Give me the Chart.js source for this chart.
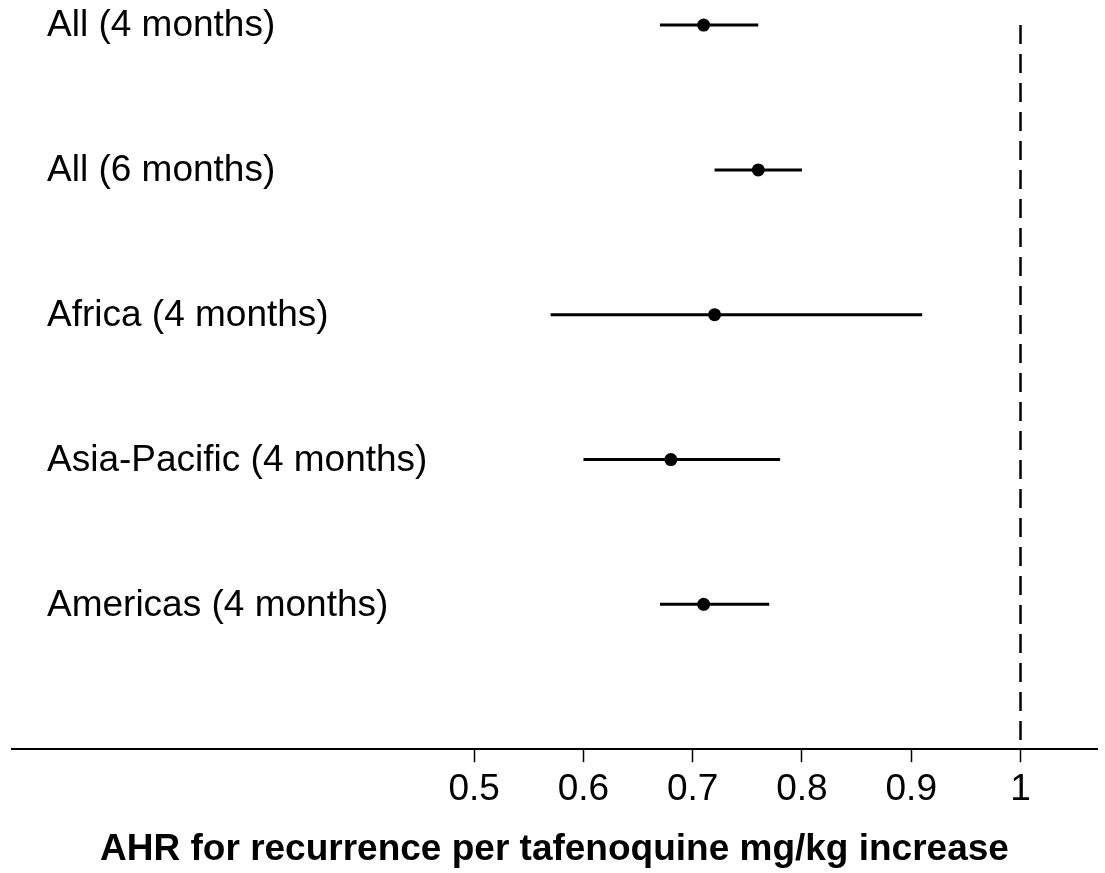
<!DOCTYPE html>
<html>
<head>
<meta charset="utf-8">
<script src="https://cdn.jsdelivr.net/npm/chart.js@4/dist/chart.umd.min.js"></script>
<style>
    body { margin: 0; background: #fff; }
    #wrap { width: 1105px; height: 873px; }
</style>
</head>
<body>
<div id="wrap"><canvas id="forest"></canvas></div>
<script>
// Rows, top to bottom
const groups = ['All (4 months)', 'All (6 months)', 'Africa (4 months)', 'Asia-Pacific (4 months)', 'Americas (4 months)'];
const ahr = [0.71, 0.76, 0.72, 0.68, 0.71];
const lower = [0.67, 0.72, 0.57, 0.60, 0.67];
const upper = [0.76, 0.80, 0.91, 0.78, 0.77];
const xTicks = [0.5, 0.6, 0.7, 0.8, 0.9, 1];
const refLine = 1;

const fontFamily = '"Liberation Sans", Arial, Helvetica, sans-serif';

// one line dataset per confidence interval
const ciSets = groups.map((g, i) => ({
    type: 'line',
    data: [{ x: lower[i], y: i + 1 }, { x: upper[i], y: i + 1 }],
    borderColor: '#000',
    borderWidth: 3,
    pointRadius: 0
}));

// Dashed reference line at AHR = 1
const refSet = {
    type: 'line',
    data: [{ x: refLine, y: 1 }, { x: refLine, y: groups.length + 1 }],
    borderColor: '#000',
    borderWidth: 2.5,
    borderDash: [19, 10],
    pointRadius: 0
};

// Point estimates
const pointSet = {
    type: 'scatter',
    data: ahr.map((v, i) => ({ x: v, y: i + 1 })),
    backgroundColor: '#000',
    borderWidth: 0,
    pointRadius: 6.5
};

// Row labels sit inside the plot, left aligned, at each row's y position
const rowLabels = {
    id: 'rowLabels',
    afterDatasetsDraw(chart) {
        const { ctx, chartArea, scales: { y } } = chart;
        ctx.save();
        ctx.fillStyle = '#000';
        ctx.font = '37px ' + fontFamily;
        ctx.textAlign = 'left';
        ctx.textBaseline = 'middle';
        groups.forEach((g, i) => {
            ctx.fillText(g, chartArea.left + 35, y.getPixelForValue(i + 1) + 1);
        });
        ctx.restore();
    }
};

new Chart(document.getElementById('forest'), {
    data: { datasets: [refSet, ...ciSets, pointSet] },
    plugins: [rowLabels],
    options: {
        responsive: true,
        maintainAspectRatio: false,
        animation: false,
        layout: { autoPadding: false, padding: { left: 12, right: 8, top: 0, bottom: 0 } },
        plugins: {
            legend: { display: false },
            tooltip: { enabled: false }
        },
        scales: {
            x: {
                type: 'linear',
                min: 0.077,
                max: 1.07,
                afterBuildTicks: axis => { axis.ticks = xTicks.map(v => ({ value: v })); },
                grid: {
                    drawOnChartArea: false,
                    drawTicks: true,
                    tickLength: 13,
                    tickColor: '#000',
                    tickWidth: 1.5
                },
                border: { display: true, color: '#000', width: 2 },
                ticks: {
                    color: '#000',
                    padding: 5,
                    maxRotation: 0,
                    font: { family: fontFamily, size: 37 },
                    callback: v => String(v)
                },
                title: {
                    display: true,
                    text: 'AHR for recurrence per tafenoquine mg/kg increase',
                    color: '#000',
                    font: { family: fontFamily, size: 37, weight: 'bold' },
                    padding: { top: 11, bottom: 1 }
                }
            },
            y: {
                type: 'linear',
                display: false,
                reverse: true,
                min: 0.827,
                max: groups.length + 1
            }
        }
    }
});
</script>
</body>
</html>
